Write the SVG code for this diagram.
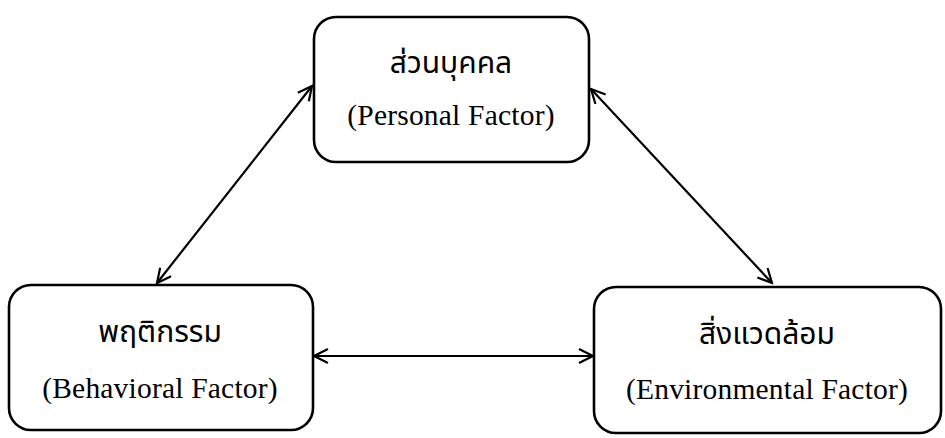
<svg xmlns="http://www.w3.org/2000/svg" width="945" height="438" viewBox="0 0 945 438">
<style>
.box{fill:#fff;stroke:#000;stroke-width:2.6}
.th{font-family:"Noto Sans Thai","Noto Sans","DejaVu Sans",sans-serif;font-size:30px;text-anchor:middle;fill:#000}
.en{font-family:"Liberation Serif",serif;font-size:29.5px;letter-spacing:0.2px;text-anchor:middle;fill:#000}
.con{stroke:#000;stroke-width:2.2;fill:none;marker-start:url(#ah);marker-end:url(#ah)}
</style>
<defs>
<marker id="ah" viewBox="-16 -8 18 16" markerWidth="18" markerHeight="16" refX="0" refY="0" orient="auto-start-reverse" markerUnits="userSpaceOnUse">
<path d="M-14,-7 L0,0 L-14,7" fill="none" stroke="#000" stroke-width="2.2"/>
</marker>
</defs>
<g id="connectors">
<line class="con" x1="157" y1="283" x2="312" y2="86"/>
<line class="con" x1="591" y1="89" x2="772" y2="283"/>
<line class="con" x1="314" y1="356" x2="593" y2="356"/>
</g>
<g id="personal">
<rect class="box" x="314" y="17" width="275" height="145" rx="22"/>
<text class="th" x="451" y="73">ส่วนบุคคล</text>
<text class="en" x="451" y="125">(Personal Factor)</text>
</g>
<g id="behavioral">
<rect class="box" x="9" y="285" width="304" height="145" rx="22"/>
<text class="th" x="160" y="342">พฤติกรรม</text>
<text class="en" x="160" y="398">(Behavioral Factor)</text>
</g>
<g id="environmental">
<rect class="box" x="594" y="287" width="347" height="146" rx="22"/>
<text class="th" x="767" y="344">สิ่งแวดล้อม</text>
<text class="en" x="767" y="399">(Environmental Factor)</text>
</g>
</svg>
